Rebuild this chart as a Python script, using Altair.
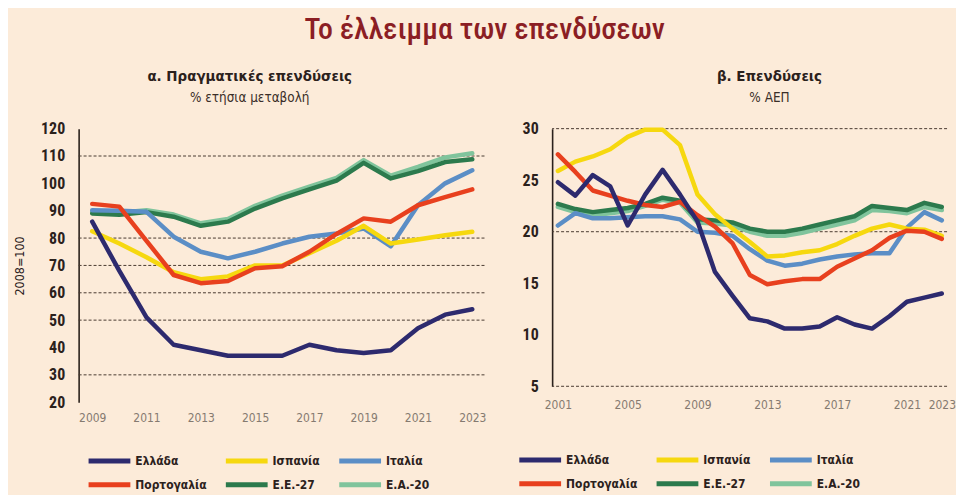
import altair as alt
import pandas as pd

# ---------------- data ----------------
series_names = ["Ελλάδα", "Ισπανία", "Ιταλία", "Πορτογαλία", "Ε.Ε.-27", "Ε.Α.-20"]
series_colors = ["#2d2a6e", "#f6d80f", "#5b8ec6", "#e8401e", "#2c7a4d", "#80c49c"]
draw_order = ["Ε.Α.-20", "Ε.Ε.-27", "Ιταλία", "Ισπανία", "Πορτογαλία", "Ελλάδα"]

# panel a: real investment, 2008=100
years_a = list(range(2009, 2024))
greece_a = [86, 68, 51, 41, 39, 37, 37, 37, 41, 39, 38, 39, 47, 52, 54]
spain_a = [82.5, 78, 73, 67.5, 65, 66, 70, 70, 74.5, 79, 84.5, 78, 79.5, 81, 82.3]
italy_a = [90.2, 90, 89.6, 80.5, 75, 72.6, 75, 78, 80.5, 81.7, 83.5, 77, 92, 100, 104.8]
portugal_a = [92.5, 91.5, 79, 66.5, 63.5, 64.3, 69, 69.7, 75, 81.5, 87.2, 86, 92, 95, 97.8]
eu27_a = [89, 88.5, 89.5, 87.8, 84.5, 86, 90.8, 94.5, 97.8, 101, 107.5, 101.8, 104.5, 107.8, 108.8]
ea20_a = [89.8, 89.3, 90.2, 88.6, 85.4, 87, 91.8, 95.5, 98.8, 102, 108.5, 102.8, 106, 109.5, 111]
ticks_a = [2009, 2011, 2013, 2015, 2017, 2019, 2021, 2023]
yticks_a = [20, 30, 40, 50, 60, 70, 80, 90, 100, 110, 120]
grid_a = [110, 80, 70, 60, 50, 30]

# panel b: investment, % of GDP
years_b = list(range(2001, 2024))
greece_b = [24.8, 23.5, 25.5, 24.4, 20.6, 23.6, 26.0, 23.6, 21.0, 16.1, 13.8, 11.6, 11.3, 10.6,
            10.6, 10.8, 11.7, 11.0, 10.6, 11.8, 13.2, 13.6, 14.0]
spain_b = [25.9, 26.8, 27.3, 28.0, 29.2, 29.9, 29.9, 28.4, 23.6, 21.7, 20.3, 19.0, 17.6, 17.7,
           18.0, 18.2, 18.8, 19.6, 20.3, 20.7, 20.3, 20.2, 19.6]
italy_b = [20.6, 21.8, 21.3, 21.3, 21.4, 21.5, 21.5, 21.2, 20.0, 19.9, 19.6, 18.3, 17.2, 16.7,
           16.9, 17.3, 17.6, 17.8, 17.9, 17.9, 20.4, 21.9, 21.1]
portugal_b = [27.5, 25.8, 24.0, 23.5, 23.0, 22.6, 22.4, 22.9, 21.6, 20.5, 18.9, 15.8, 14.9, 15.2,
              15.4, 15.4, 16.6, 17.4, 18.2, 19.4, 20.1, 20.0, 19.3]
eu27_b = [22.7, 22.2, 21.9, 22.1, 22.3, 22.7, 23.3, 23.0, 21.2, 21.1, 20.9, 20.3, 20.0, 20.0,
          20.3, 20.7, 21.1, 21.5, 22.5, 22.3, 22.1, 22.8, 22.4]
ea20_b = [22.4, 21.9, 21.6, 21.8, 22.0, 22.5, 23.1, 22.8, 20.9, 20.8, 20.6, 20.0, 19.6, 19.6,
          19.9, 20.3, 20.7, 21.1, 22.1, 22.0, 21.8, 22.4, 22.1]
ticks_b = [2001, 2005, 2009, 2013, 2017, 2021, 2023]
yticks_b = [5, 10, 15, 20, 25, 30]
grid_b = [30, 20, 5]

# ---------------- styling ----------------
FONT = "Roboto Condensed, Liberation Sans Narrow, DejaVu Sans Condensed, sans-serif"
FONT_W = "DejaVu Sans Condensed, Roboto Condensed, Liberation Sans Narrow, sans-serif"
BG = "#fcebd9"
DARK = "#2b211c"


def long_df(years, cols):
    rows = []
    for name, vals in zip(series_names, cols):
        for y, v in zip(years, vals):
            rows.append({"year": y, "value": v, "series": name})
    return pd.DataFrame(rows)


df_a = long_df(years_a, [greece_a, spain_a, italy_a, portugal_a, eu27_a, ea20_a])
df_b = long_df(years_b, [greece_b, spain_b, italy_b, portugal_b, eu27_b, ea20_b])


def panel(df, xdom, ticks, ydom, yticks, grid, w, h, title, subtitle, ytitle, lx, ly, dx, xlabpad):
    legend = alt.Legend(
        title=None, orient="none", legendX=lx, legendY=ly, columns=3, direction="horizontal",
        symbolType="M-2,0H2", symbolSize=441, symbolStrokeWidth=5,
        labelFont=FONT_W, labelFontSize=12, labelFontWeight=600, labelColor=DARK,
        labelOffset=13, columnPadding=9, rowPadding=1, padding=0, gridAlign="each",
    )
    xaxis = alt.Axis(values=ticks, format="d", title=None, grid=False, ticks=False,
                     domain=False, labelFont=FONT_W, labelFontSize=12, labelColor="#857a70",
                     labelPadding=xlabpad, labelFlush=False, labelOverlap=False)
    yaxis = alt.Axis(values=yticks, title=ytitle, grid=False, ticks=False, domain=True,
                     domainColor=DARK, domainWidth=1.6, labelFont=FONT, labelFontSize=16,
                     labelFontWeight="bold", labelColor=DARK, labelPadding=14,
                     labelOverlap=False, labelFlush=False,
                     titleFont=FONT_W, titleFontSize=12.5, titleFontWeight="normal",
                     titleColor=DARK, titlePadding=14)
    yscale = alt.Scale(domain=ydom, nice=False, zero=False)
    xenc = alt.X("year:Q", scale=alt.Scale(domain=xdom, nice=False, zero=False), axis=xaxis)
    yenc = alt.Y("value:Q", scale=yscale, axis=yaxis)
    grid_df = pd.DataFrame({"value": grid})
    rules = alt.Chart(grid_df).mark_rule(color="#4a3a30", strokeWidth=1, strokeDash=[3, 2]).encode(
        y=alt.Y("value:Q", scale=yscale, axis=yaxis)
    )
    layers = [rules]
    for s in draw_order:
        layers.append(
            alt.Chart(df).transform_filter(alt.datum.series == s)
            .mark_line(strokeWidth=4.5, strokeCap="round", strokeJoin="round")
            .encode(
                x=xenc, y=yenc,
                color=alt.Color("series:N", scale=alt.Scale(domain=series_names, range=series_colors),
                                legend=legend, sort=series_names),
            )
        )
    return alt.layer(*layers).properties(
        width=w, height=h,
        title=alt.TitleParams(
            text=title, subtitle=subtitle, anchor="middle", frame="group", dx=dx,
            font=FONT_W, fontSize=15, fontWeight="bold", color=DARK,
            subtitleFont=FONT_W, subtitleFontSize=13.5, subtitleColor="#3a2e28",
            subtitlePadding=7, offset=16,
        ),
    )


left = panel(df_a, [2008.5, 2023.45], ticks_a, [20, 120], yticks_a, grid_a, 408, 275,
             "α. Πραγματικές επενδύσεις", "% ετήσια μεταβολή", "2008=100", 18, 321, -32, 10)
right = panel(df_b, [2000.67, 2023.3], ticks_b, [5, 30], yticks_b, grid_b, 397, 259,
              "β. Επενδύσεις", "% ΑΕΠ", None, -25, 320, 20, 13)

chart = (
    alt.hconcat(left, right, spacing=35)
    .resolve_scale(color="independent")
    .resolve_legend(color="independent")
    .properties(
        background=BG,
        padding={"left": 5, "top": 5, "right": 0, "bottom": 0},
        title=alt.TitleParams(
            "Το έλλειμμα των επενδύσεων", anchor="middle", font=FONT, fontSize=30,
            fontWeight=500, color="#8b1e24", offset=25,
        ),
    )
    .configure_view(stroke=None)
)

chart.save("out.html", embed_options={"renderer": "svg", "actions": False})
